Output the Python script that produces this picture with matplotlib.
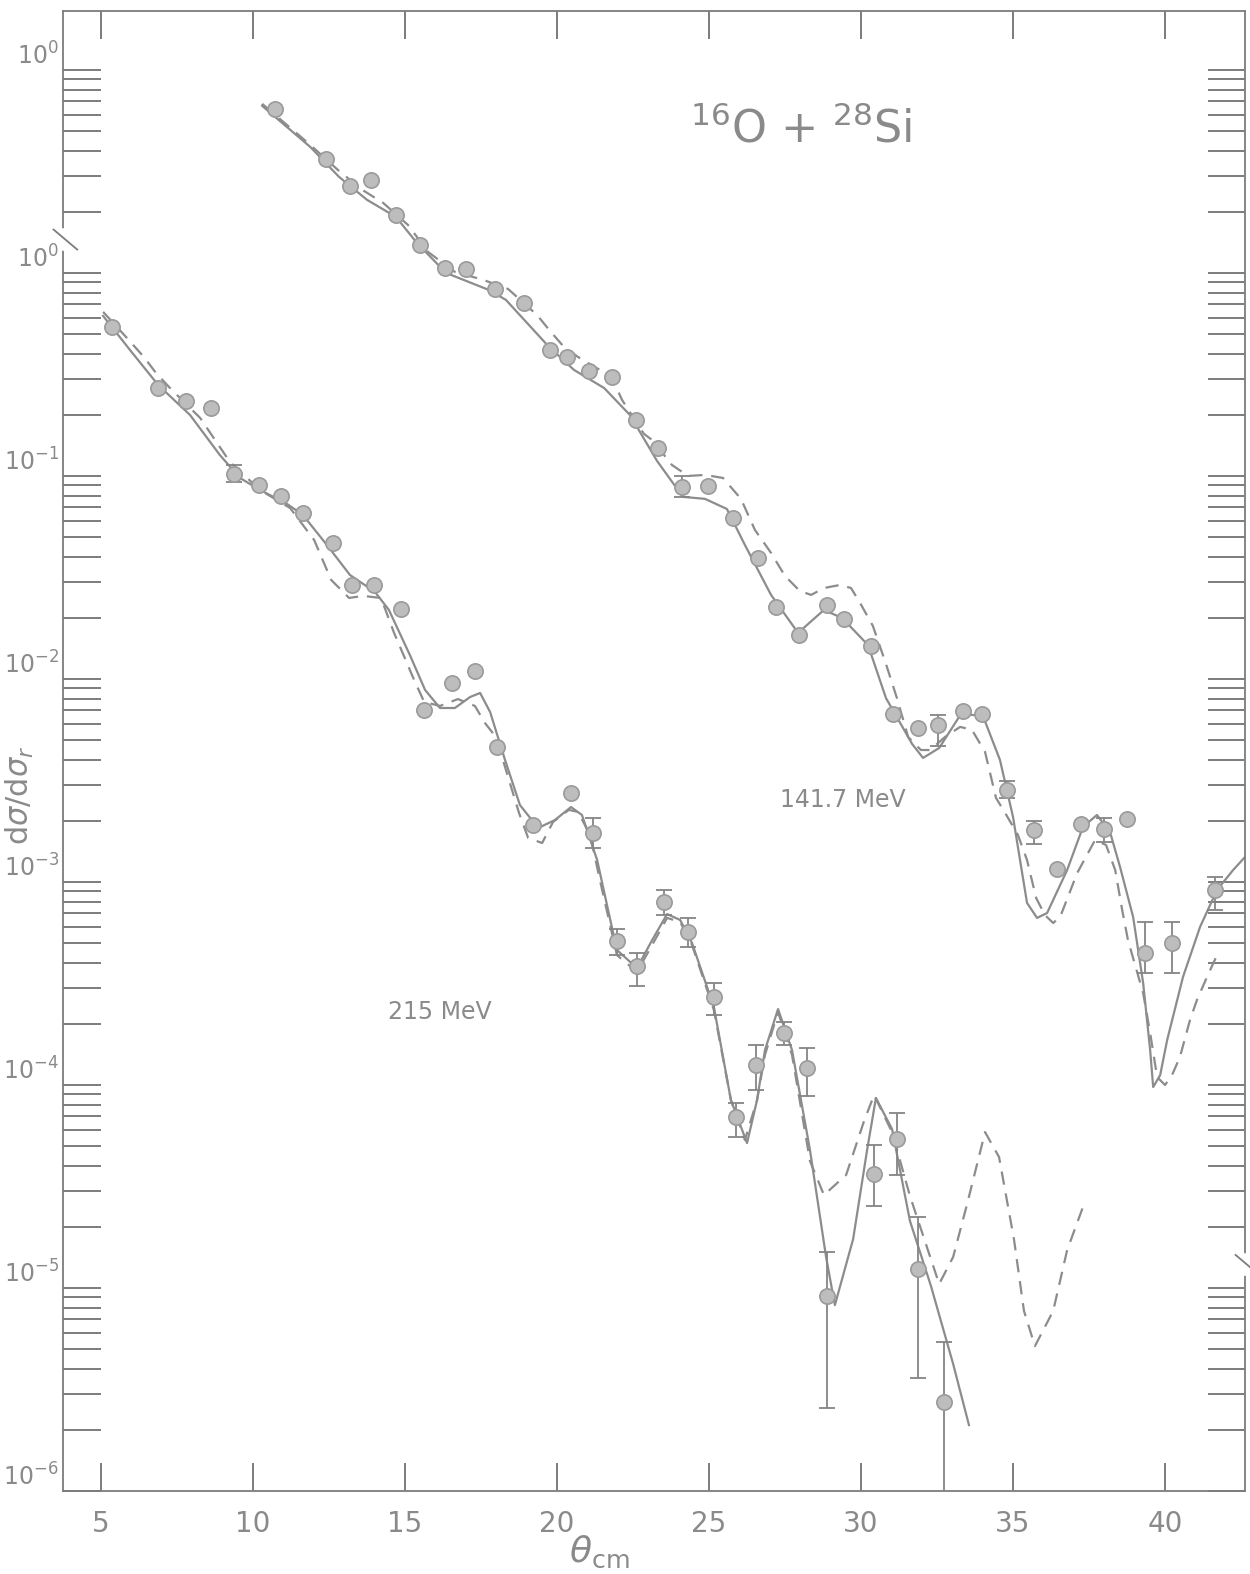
import numpy as np
import matplotlib.pyplot as plt
import matplotlib.transforms as mtransforms
from matplotlib.ticker import FixedLocator, FixedFormatter, LogLocator, NullLocator, NullFormatter

# 215 MeV measured points (theta_cm, d sigma / d sigma_r) and error bars
theta_215 = [5.36, 6.88, 7.80, 8.62, 9.38, 10.20, 10.92, 11.64, 12.63, 13.26, 13.98,
             14.87, 15.63, 16.55, 17.30, 18.03, 19.20, 20.46, 21.18, 21.97, 22.63,
             23.52, 24.31, 25.16, 25.89, 26.55, 27.47, 28.22, 28.88, 30.43, 31.18,
             31.88, 32.73]
sig_215 = [0.54, 0.27, 0.234, 0.216, 0.102, 0.090, 0.080, 0.066, 0.047, 0.029, 0.029,
           0.022, 0.0070, 0.0096, 0.011, 0.0046, 0.0019, 0.00274, 0.00174, 5.1e-4, 3.85e-4,
           7.96e-4, 5.68e-4, 2.71e-4, 6.95e-5, 1.26e-4, 1.80e-4, 1.21e-4, 9.1e-6, 3.65e-5, 5.42e-5,
           1.24e-5, 2.74e-6]
lo_215 = [None, None, None, None, 0.0933, None, None, None, None, None, None,
          None, None, None, None, None, None, None, 0.00147, 4.36e-4, 3.08e-4,
          6.87e-4, 4.79e-4, 2.21e-4, 5.55e-5, 9.44e-5, 1.57e-4, 8.83e-5, 2.56e-6, 2.54e-5, 3.61e-5,
          3.6e-6, 5e-7]
hi_215 = [None, None, None, None, 0.113, None, None, None, None, None, None,
          None, None, None, None, None, None, None, 0.00207, 5.86e-4, 4.47e-4,
          9.14e-4, 6.65e-4, 3.18e-4, 8.15e-5, 1.57e-4, 2.04e-4, 1.52e-4, 1.50e-5, 5.06e-5, 7.28e-5,
          2.24e-5, 5.42e-6]

# 141.7 MeV measured points
theta_142 = [10.72, 12.40, 13.19, 13.88, 14.70, 15.49, 16.32, 17.01, 17.96, 18.91, 19.77,
             20.33, 21.05, 21.81, 22.60, 23.32, 24.11, 24.97, 25.79, 26.61, 27.20, 27.96,
             28.88, 29.44, 30.33, 31.05, 31.88, 32.53, 33.36, 33.98, 34.80, 35.69, 36.45,
             37.24, 37.99, 38.75, 39.34, 40.23, 41.64]
sig_142 = [6.43, 3.65, 2.69, 2.87, 1.93, 1.37, 1.06, 1.05, 0.834, 0.711, 0.418,
           0.385, 0.329, 0.308, 0.189, 0.137, 0.0883, 0.0893, 0.0621, 0.0394, 0.0226, 0.0165,
           0.0232, 0.0198, 0.0146, 0.00673, 0.00574, 0.00593, 0.00695, 0.00673, 0.00284, 0.00180, 0.00116,
           0.00193, 0.00182, 0.00204, 4.47e-4, 5.01e-4, 9.14e-4]
lo_142 = [None, None, None, None, None, None, None, None, None, None, None,
          None, None, None, None, None, 0.0788, None, None, None, None, None,
          None, None, None, None, None, 0.00468, None, None, 0.00259, 0.00154, None,
          None, 0.00157, None, 3.56e-4, 3.56e-4, 7.28e-4]
hi_142 = [None, None, None, None, None, None, None, None, None, None, None,
          None, None, None, None, None, 0.100, None, None, None, None, None,
          None, None, None, None, None, 0.00665, None, None, 0.00315, 0.00200, None,
          None, 0.00207, None, 6.35e-4, 6.35e-4, 1.06e-3]

# calculated curves, log10 of the ratio
th_s215 = [5.07, 5.95, 6.88, 7.93, 8.91, 9.57, 10.23, 11.12, 11.64, 12.43, 13.19, 14.01, 14.47,
           15.16, 15.66, 16.15, 16.64, 17.14, 17.47, 17.80, 18.29, 18.78, 19.38, 19.93, 20.46,
           20.82, 21.32, 21.68, 21.97, 22.63, 23.13, 23.62, 24.05, 24.44, 25.16, 25.72, 26.25,
           26.58, 26.84, 27.27, 27.73, 28.32, 28.85, 29.14, 29.74, 30.20, 30.49, 31.02, 31.61,
           32.30, 33.03, 33.55]
lg_s215 = [-0.212, -0.379, -0.552, -0.700, -0.897, -1.010, -1.069, -1.138, -1.192, -1.340, -1.488,
           -1.571, -1.660, -1.882, -2.054, -2.143, -2.143, -2.089, -2.069, -2.163, -2.399, -2.621,
           -2.734, -2.695, -2.631, -2.670, -2.892, -3.138, -3.335, -3.424, -3.286, -3.158, -3.187,
           -3.300, -3.616, -4.074, -4.286, -4.074, -3.828, -3.626, -3.828, -4.320, -4.847, -5.084,
           -4.759, -4.320, -4.064, -4.217, -4.670, -4.990, -5.374, -5.675]

th_d215 = [5.07, 5.82, 6.41, 6.81, 7.27, 8.26, 9.24, 10.23, 11.22, 12.01, 12.57, 13.16, 13.62,
           14.21, 14.64, 15.30, 15.63, 16.15, 16.74, 17.30, 17.63, 17.99, 18.45, 18.75, 19.05,
           19.51, 19.87, 20.39, 20.69, 21.09, 21.41, 21.97, 22.63, 23.13, 23.62, 24.05, 24.44,
           25.16, 25.72, 26.18, 26.58, 26.84, 27.27, 27.73, 28.32, 28.78, 29.51, 30.10, 30.43,
           31.02, 31.61, 32.20, 32.57, 33.03, 33.49, 34.08, 34.54, 35.03, 35.36, 35.72, 36.32,
           36.78, 37.30]
lg_d215 = [-0.192, -0.315, -0.414, -0.493, -0.567, -0.714, -0.931, -1.069, -1.158, -1.315, -1.512,
           -1.601, -1.591, -1.601, -1.773, -2.005, -2.113, -2.133, -2.099, -2.133, -2.217, -2.286,
           -2.512, -2.660, -2.783, -2.808, -2.704, -2.645, -2.655, -2.768, -2.990, -3.360, -3.443,
           -3.310, -3.177, -3.197, -3.310, -3.631, -4.074, -4.271, -4.074, -3.852, -3.640, -3.852,
           -4.374, -4.542, -4.443, -4.177, -4.049, -4.232, -4.547, -4.813, -4.980, -4.847, -4.586,
           -4.232, -4.355, -4.759, -5.113, -5.286, -5.113, -4.813, -4.601]

th_s142 = [10.30, 11.88, 12.83, 13.75, 14.70, 15.39, 16.35, 17.76, 18.32, 19.74, 20.56, 21.55,
           22.40, 23.29, 24.14, 24.87, 25.59, 26.18, 27.04, 27.93, 28.78, 29.38, 30.23, 30.82,
           31.68, 32.04, 32.57, 33.29, 34.01, 34.57, 35.00, 35.23, 35.46, 35.79, 36.12, 36.78,
           37.30, 37.76, 38.19, 38.52, 38.95, 39.28, 39.51, 39.61, 39.84, 40.07, 40.59, 41.15,
           41.71, 42.24, 42.63]
lg_s142 = [0.823, 0.621, 0.473, 0.360, 0.276, 0.148, 0.000, -0.084, -0.133, -0.365, -0.478, -0.567,
           -0.700, -0.926, -1.103, -1.113, -1.163, -1.340, -1.586, -1.773, -1.660, -1.700, -1.833,
           -2.094, -2.320, -2.389, -2.340, -2.172, -2.182, -2.399, -2.680, -2.892, -3.103, -3.177,
           -3.153, -2.941, -2.729, -2.670, -2.754, -2.926, -3.172, -3.498, -3.828, -4.010, -3.951,
           -3.778, -3.468, -3.222, -3.039, -2.941, -2.877]

th_d142 = [10.30, 11.88, 12.86, 13.65, 14.28, 15.10, 15.76, 16.64, 17.57, 18.39, 19.34, 19.80,
           20.23, 20.69, 21.41, 21.84, 22.14, 22.86, 23.13, 23.78, 24.31, 24.87, 25.46, 26.05,
           26.51, 27.04, 27.50, 27.99, 28.36, 28.78, 29.31, 29.67, 29.97, 30.39, 30.82, 31.18,
           31.55, 31.97, 32.27, 32.76, 33.26, 33.65, 34.08, 34.44, 34.74, 35.16, 35.46, 35.76,
           36.05, 36.32, 36.55, 37.11, 37.70, 38.06, 38.36, 38.59, 38.78, 39.28, 39.51, 39.74,
           40.00, 40.23, 40.49, 40.82, 41.05, 41.38, 41.71]
lg_d142 = [0.833, 0.631, 0.498, 0.404, 0.345, 0.236, 0.103, 0.005, -0.034, -0.079, -0.207, -0.291,
           -0.365, -0.414, -0.478, -0.527, -0.626, -0.793, -0.823, -0.946, -1.000, -0.995, -1.010,
           -1.113, -1.266, -1.379, -1.493, -1.567, -1.586, -1.552, -1.537, -1.552, -1.626, -1.739,
           -1.926, -2.094, -2.286, -2.350, -2.350, -2.286, -2.236, -2.251, -2.360, -2.586, -2.660,
           -2.768, -2.892, -3.079, -3.163, -3.202, -3.172, -2.956, -2.793, -2.818, -2.941, -3.138,
           -3.286, -3.547, -3.744, -3.961, -4.000, -3.951, -3.862, -3.680, -3.581, -3.468, -3.360]

y_ticks = [1e1, 1e0, 1e-1, 1e-2, 1e-3, 1e-4, 1e-5, 1e-6]
y_labels = ['$10^0$', '$10^0$', '$10^{-1}$', '$10^{-2}$', '$10^{-3}$', '$10^{-4}$', '$10^{-5}$', '$10^{-6}$']
x_ticks = [5, 10, 15, 20, 25, 30, 35, 40]

line_c = '#8c8c8c'
frame_c = '#7c7c7c'
text_c = '#8a8a8a'

fig = plt.figure(figsize=(12.5, 15.74), dpi=100)
ax = fig.add_axes([0.0504, 0.0527, 0.9456, 0.9403])
ax.set_yscale('log')

# curves
ax.plot(th_s215, 10 ** np.array(lg_s215), color=line_c, lw=1.6, zorder=2)
ax.plot(th_d215, 10 ** np.array(lg_d215), color=line_c, lw=1.6, ls=(0, (6, 4)), zorder=2)
ax.plot(th_s142, 10 ** np.array(lg_s142), color=line_c, lw=1.6, zorder=2)
ax.plot(th_d142, 10 ** np.array(lg_d142), color=line_c, lw=1.6, ls=(0, (6, 4)), zorder=2)

# data with error bars
for th, s, lo, hi in [(theta_215, sig_215, lo_215, hi_215), (theta_142, sig_142, lo_142, hi_142)]:
    th = np.array(th)
    s = np.array(s)
    lo = np.array(lo, dtype=float)
    hi = np.array(hi, dtype=float)
    m = ~np.isnan(lo)
    ax.errorbar(th[m], s[m], yerr=[s[m] - lo[m], hi[m] - s[m]], fmt='none',
                ecolor='#858585', elinewidth=1.3, capsize=6, capthick=1.3, zorder=3)
    ax.plot(th, s, 'o', ms=11, mfc='#bdbdbd', mec='#9a9a9a', mew=1.2, zorder=4)

ax.set_xlim(3.75, 42.63)
ax.set_ylim(1e-6, 10 ** 1.29)

ax.xaxis.set_major_locator(FixedLocator(x_ticks))
ax.xaxis.set_minor_locator(NullLocator())
ax.yaxis.set_major_locator(FixedLocator(y_ticks))
ax.yaxis.set_major_formatter(FixedFormatter(y_labels))
ax.yaxis.set_minor_locator(LogLocator(base=10, subs=np.arange(2, 10), numticks=20))
ax.yaxis.set_minor_formatter(NullFormatter())

ax.tick_params(axis='both', which='both', direction='in', top=True, right=True,
               color='#666666', width=1.2)
ax.tick_params(axis='y', which='both', length=27)
ax.tick_params(axis='y', which='major', labelsize=17, labelcolor=text_c, pad=3)
ax.tick_params(axis='x', which='major', length=20, pad=14, labelsize=20, labelcolor=text_c)
for lab in ax.get_yticklabels():
    lab.set_verticalalignment('bottom')

for sp in ax.spines.values():
    sp.set_color(frame_c)
    sp.set_linewidth(1.3)

ax.set_xlabel(r'$\theta_{\rm cm}$', fontsize=26, color=text_c, va='center')
ax.xaxis.set_label_coords(0.454, -0.041)
ax.set_ylabel(r'd$\sigma$/d$\sigma_r$', fontsize=22, color=text_c, va='center')
ax.yaxis.set_label_coords(-0.036, 0.47)

ax.text(0.624, 0.92, r'$^{16}$O + $^{28}$Si', transform=ax.transAxes, fontsize=32,
        color=text_c, ha='center', va='center')
ax.text(0.66, 0.467, '141.7 MeV', transform=ax.transAxes, fontsize=17,
        color=text_c, ha='center', va='center')
ax.text(0.319, 0.324, '215 MeV', transform=ax.transAxes, fontsize=17,
        color=text_c, ha='center', va='center')

# axis breaks
trans = mtransforms.blended_transform_factory(ax.transAxes, ax.transData)
for xb, yb in [(0.0, 1.46), (1.0, 1.3e-5)]:
    ax.plot([xb, xb], [yb / 1.1, yb * 1.1], color='white', lw=4, transform=trans,
            clip_on=False, zorder=5)
    ax.plot([xb - 0.008, xb + 0.012], [yb * 1.12, yb / 1.12], color=frame_c, lw=1.3,
            transform=trans, clip_on=False, zorder=6)

fig.savefig('out.png', dpi=100)
